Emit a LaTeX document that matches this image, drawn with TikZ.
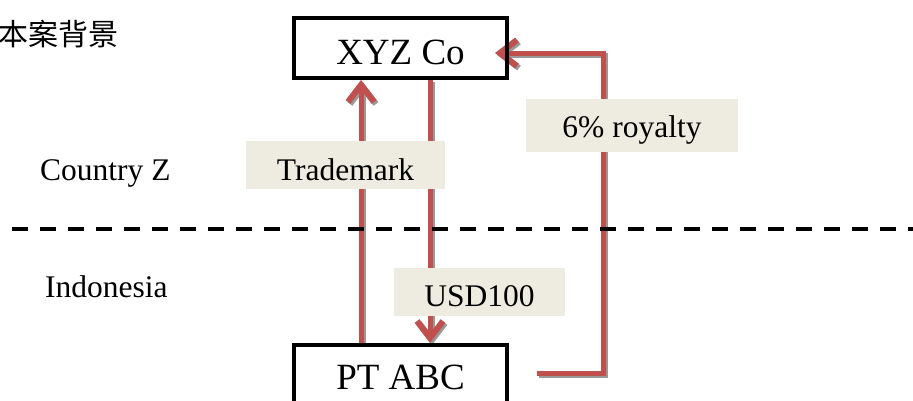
\documentclass[tikz,border=0pt]{standalone}
\usepackage{fontspec}
\setmainfont{Liberation Serif}
\newfontfamily\cjkfont{Noto Sans CJK SC}
\usetikzlibrary{arrows.meta}
\definecolor{flowred}{HTML}{C0504D}
\definecolor{tagfill}{HTML}{EEECE1}
\pgfdeclarelayer{back}
\pgfsetlayers{back,main}

% the three flows, drawn once as shadow and once in colour
\newcommand\flowpaths[1]{%
  \draw[#1] (abc.north -| tmx) -- (xyz.south -| tmx);
  \draw[#1] (xyz.south -| usx) -- (abc.north -| usx);
  \draw[#1] (royout) -| (rx |- royin) -- (royin);
}

\begin{document}
\begin{tikzpicture}[x=1pt,y=-1pt,
  entity/.style={draw=black, line width=4pt, inner sep=0pt,
    font=\fontsize{37}{40}\selectfont},
  tag/.style={fill=tagfill, inner sep=0pt, font=\fontsize{31.5}{36}\selectfont},
  plain/.style={inner sep=0pt, font=\fontsize{31.5}{36}\selectfont},
  flow/.style={draw=flowred, line width=5pt,
    -{Straight Barb[length=17pt,width=26pt,line width=6pt]}},
  flowshadow/.style={flow, draw=black!40},
  border/.style={line width=4pt, dash pattern=on 16pt off 12pt}
]
\useasboundingbox (0,0) rectangle (913,400);

% title
\node[anchor=base west, inner sep=0pt, font=\cjkfont\fontsize{30}{32}\selectfont]
  (title) at (-2,45) {本案背景};

% the two companies
\node[entity, minimum width=213pt, minimum height=60pt, text height=33pt, text depth=0pt]
  (xyz) at (400.5,48) {XYZ Co};
\node[entity, minimum width=213pt, minimum height=65pt]
  (abc) at (400.5,377.5) {PT ABC};

% jurisdiction labels and border
\node[plain, anchor=base west] (cz) at (40,180) {Country Z};
\node[plain, anchor=base west] (idn) at (45,297) {Indonesia};
\coordinate (bl) at (12.3,229.3);
\coordinate (br) at (913,229.3);
\draw[border] (bl) -- (br);

% flow labels
\node[tag, minimum width=199pt, minimum height=48pt, text height=30pt, text depth=0pt]
  (tm) at (345.5,165) {Trademark};
\node[tag, minimum width=212pt, minimum height=53pt, text height=23pt, text depth=0pt]
  (roy) at (632,125.5) {6\% royalty};
\node[tag, minimum width=171pt, minimum height=48pt, text height=29pt, text depth=0pt]
  (usd) at (479.5,292) {USD100};

% flows
\coordinate (tmx) at (361,0);
\coordinate (usx) at (430,0);
\coordinate (rx) at (603,0);
\coordinate (royout) at (537,373);
\coordinate (royin) at (495,53);
\begin{pgfonlayer}{back}
  \begin{scope}[transform canvas={shift={(2pt,-2pt)}}]
    \flowpaths{flowshadow}
  \end{scope}
  \flowpaths{flow}
\end{pgfonlayer}
\end{tikzpicture}
\end{document}
